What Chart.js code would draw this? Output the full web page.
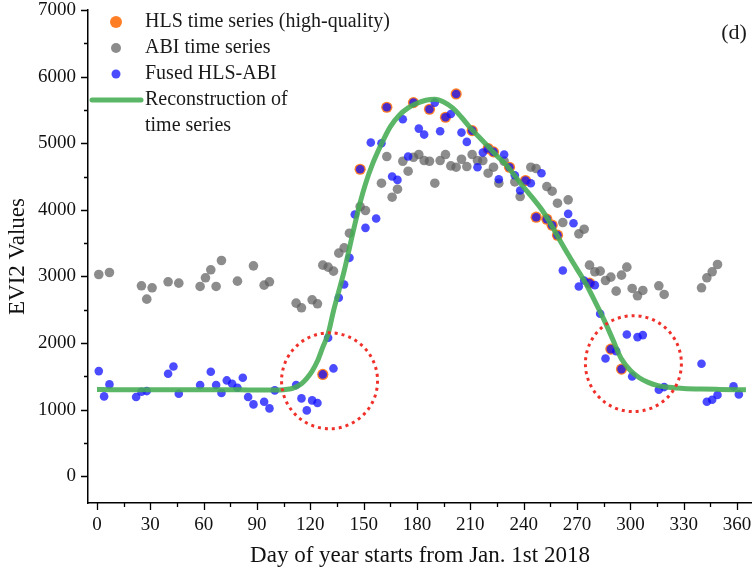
<!DOCTYPE html>
<html>
<head>
<meta charset="utf-8">
<script src="https://cdn.jsdelivr.net/npm/chart.js@4/dist/chart.umd.min.js"></script>
<style>
html,body{margin:0;padding:0;background:#fff;}
canvas{display:block;}
</style>
</head>
<body>
<canvas id="c" width="752" height="575"></canvas>
<script>
// ---- Data ----
const abiDays   = [1,7,25,28,31,40,46,58,61,64,67,70,79,88,94,97,112,115,121,124,127,130,133,136,139,142,148,151,160,163,166,169,172,175,178,181,184,187,190,193,196,199,202,205,208,211,214,217,220,223,226,229,235,238,244,247,253,256,259,262,265,271,274,277,280,283,286,289,292,295,298,301,304,307,316,319,340,343,346,349];
const abiValues = [3030,3060,2860,2660,2830,2920,2900,2850,2980,3100,2850,3240,2930,3160,2870,2920,2600,2530,2650,2590,3170,3140,3080,3350,3430,3650,4050,3990,4400,4800,4190,4310,4730,4580,4790,4830,4740,4730,4400,4740,4830,4660,4640,4760,4650,4830,4740,4740,4550,4640,4400,4730,4420,4200,4640,4620,4350,4280,4100,3810,4150,3640,3710,3170,3070,3080,2940,2990,2780,3020,3140,2820,2710,2790,2860,2730,2830,2980,3070,3180];

const hlsDays   = [127,148,163,178,187,196,202,211,220,223,232,241,247,253,256,259,277,289,295];
const hlsValues = [1530,4610,5540,5610,5510,5390,5740,5190,4920,4870,4640,4440,3890,3860,3770,3620,2900,1910,1610];

const fusedDays   = [1,4,7,22,25,28,40,43,46,58,64,67,70,73,76,79,82,85,88,94,97,100,112,115,118,121,124,127,130,133,136,139,142,145,148,151,154,157,160,163,166,169,172,175,178,181,184,187,190,193,196,199,202,205,208,211,214,217,220,223,226,229,232,235,238,241,244,247,250,253,256,259,262,265,268,271,274,277,280,283,286,289,292,295,298,301,304,307,316,319,340,343,346,349,358,361];
const fusedValues = [1580,1200,1380,1190,1270,1280,1540,1650,1240,1370,1570,1370,1250,1440,1390,1330,1480,1190,1080,1120,1020,1290,1370,1170,990,1140,1100,1530,2080,1620,2680,2880,3280,3930,4610,3730,5010,3870,5000,5540,4500,4450,5360,4800,5610,5220,5130,5510,5610,5180,5390,5440,5740,5160,5020,5190,4640,4860,4920,4870,4460,4830,4640,4520,4290,4440,4400,3890,4550,3860,3770,3620,3090,3940,3800,2850,2940,2900,2870,2440,1770,1910,1880,1610,2130,1500,2090,2120,1300,1340,1690,1120,1150,1220,1350,1230];

const reconDays   = [0,10,20,30,40,50,60,70,80,90,100,105,110,115,118,121,124,127,130,133,136,139,142,145,148,151,155,160,165,170,175,180,185,190,195,200,205,210,215,220,225,230,235,240,245,250,255,260,265,270,275,280,285,290,295,300,305,310,315,320,330,340,350,365];
const reconValues = [1305,1300,1300,1300,1300,1300,1300,1300,1300,1295,1295,1300,1320,1390,1470,1580,1730,1940,2140,2480,2780,3080,3430,3780,4110,4390,4690,4990,5250,5420,5530,5600,5645,5660,5620,5530,5390,5230,5090,4950,4810,4680,4510,4340,4180,4010,3800,3560,3330,3110,2890,2630,2360,2060,1760,1590,1480,1410,1365,1340,1320,1310,1305,1300];

// highlighted areas (centres in data units)
const circleDays   = [130.8, 301.7];
const circleValues = [1434, 1692];

const xTickValues = [0,30,60,90,120,150,180,210,240,270,300,330,360];
const yTickValues = [0,1000,2000,3000,4000,5000,6000,7000];

const legendLabels = ['HLS time series (high-quality)','ABI time series','Fused HLS-ABI',['Reconstruction of','time series']];
const xTitle = 'Day of year starts from Jan. 1st 2018';
const yTitle = 'EVI2 Values';
const panelLabel = '(d)';

// ---- Styles ----
const SERIF = "'Liberation Serif','Times New Roman',serif";
const C_ABI = 'rgba(95,95,95,0.72)';
const C_HLS = '#FF7F27';
const C_FUSED = 'rgba(15,15,255,0.75)';
const C_RECON = 'rgba(70,172,82,0.88)';

function pts(xs, ys){ return xs.map((x,i)=>({x:x, y:ys[i]})); }

const decorPlugin = {
  id: 'decor',
  afterDraw(chart){
    const ctx = chart.ctx;
    const xs = chart.scales.x, ys = chart.scales.y;
    const area = chart.chartArea;
    ctx.save();
    // tick marks
    ctx.strokeStyle = '#000';
    ctx.lineWidth = 1.3;
    ctx.beginPath();
    for (let v = 0; v <= 360; v += 15){
      const p = Math.round(xs.getPixelForValue(v)) + 0.5;
      const len = (xTickValues.indexOf(v) >= 0) ? 7 : 4;
      ctx.moveTo(p, area.bottom); ctx.lineTo(p, area.bottom + len);
    }
    for (let v = 0; v <= 7000; v += 500){
      const p = Math.round(ys.getPixelForValue(v)) + 0.5;
      const len = (yTickValues.indexOf(v) >= 0) ? 7 : 4;
      ctx.moveTo(area.left, p); ctx.lineTo(area.left - len, p);
    }
    ctx.stroke();

    // dotted red circles
    ctx.strokeStyle = '#F0302A';
    ctx.lineWidth = 3;
    ctx.setLineDash([3,4]);
    for (let i = 0; i < circleDays.length; i++){
      const cx = xs.getPixelForValue(circleDays[i]);
      const cy = ys.getPixelForValue(circleValues[i]);
      ctx.beginPath();
      ctx.arc(cx, cy, 48, 0, Math.PI*2);
      ctx.stroke();
    }
    ctx.setLineDash([]);

    // legend
    const lx = 116, tx = 145;
    const rows = [22, 48, 74, 100, 126];
    ctx.fillStyle = C_HLS;
    ctx.beginPath(); ctx.arc(lx, rows[0], 6, 0, Math.PI*2); ctx.fill();
    ctx.fillStyle = C_ABI;
    ctx.beginPath(); ctx.arc(lx, rows[1], 5, 0, Math.PI*2); ctx.fill();
    ctx.fillStyle = C_FUSED;
    ctx.beginPath(); ctx.arc(lx, rows[2], 4.5, 0, Math.PI*2); ctx.fill();
    ctx.strokeStyle = C_RECON;
    ctx.lineWidth = 5;
    ctx.lineCap = 'round';
    ctx.beginPath(); ctx.moveTo(92, rows[3]); ctx.lineTo(141, rows[3]); ctx.stroke();

    ctx.fillStyle = '#1a1a1a';
    ctx.font = '20px ' + SERIF;
    ctx.textAlign = 'left';
    ctx.textBaseline = 'middle';
    ctx.fillText(legendLabels[0], tx, rows[0]);
    ctx.fillText(legendLabels[1], tx, rows[1]);
    ctx.fillText(legendLabels[2], tx, rows[2]);
    ctx.fillText(legendLabels[3][0], tx, rows[3]);
    ctx.fillText(legendLabels[3][1], tx, rows[4]);

    // panel label
    ctx.font = '22px ' + SERIF;
    ctx.textAlign = 'center';
    ctx.fillText(panelLabel, 734, 33);
    ctx.restore();
  }
};

new Chart(document.getElementById('c'), {
  type: 'scatter',
  data: {
    datasets: [
      { type: 'line', label: 'Reconstruction of time series', data: pts(reconDays, reconValues),
        borderColor: C_RECON, borderWidth: 5, pointRadius: 0, fill: false,
        cubicInterpolationMode: 'monotone', order: 0 },
      { label: 'Fused HLS-ABI', data: pts(fusedDays, fusedValues),
        backgroundColor: C_FUSED, borderWidth: 0, pointRadius: 4.3, order: 1 },
      { label: 'HLS time series (high-quality)', data: pts(hlsDays, hlsValues),
        backgroundColor: C_HLS, borderWidth: 0, pointRadius: 5.6, order: 2 },
      { label: 'ABI time series', data: pts(abiDays, abiValues),
        backgroundColor: C_ABI, borderWidth: 0, pointRadius: 4.8, order: 3 }
    ]
  },
  options: {
    responsive: false,
    devicePixelRatio: 1,
    animation: false,
    layout: { autoPadding: false, padding: { top: 10, right: 0, left: 0, bottom: 0 } },
    plugins: { legend: { display: false }, tooltip: { enabled: false } },
    scales: {
      x: {
        type: 'linear', min: -5.06, max: 368.4,
        afterFit(s){ s.height = 72; s.paddingLeft = 0; s.paddingRight = 0; },
        afterBuildTicks(s){ s.ticks = xTickValues.map(v => ({value: v})); },
        grid: { display: true, drawOnChartArea: false, drawTicks: false },
        border: { display: true, color: '#000', width: 1.5 },
        ticks: { padding: 11, color: '#111', font: { family: SERIF, size: 19 }, maxRotation: 0, autoSkip: false,
                 callback: v => String(v) },
        title: { display: true, text: xTitle, color: '#111', font: { family: SERIF, size: 23 }, padding: { top: 0, bottom: 5 } }
      },
      y: {
        type: 'linear', min: -400, max: 7000,
        afterFit(s){ s.width = 88; s.paddingTop = 0; s.paddingBottom = 0; },
        afterBuildTicks(s){ s.ticks = yTickValues.map(v => ({value: v})); },
        grid: { display: true, drawOnChartArea: false, drawTicks: false },
        border: { display: true, color: '#000', width: 1.5 },
        ticks: { padding: 12, color: '#111', font: { family: SERIF, size: 19 }, callback: v => String(v) },
        title: { display: true, text: yTitle, color: '#111', font: { family: SERIF, size: 23 }, padding: { top: 4, bottom: 0 } }
      }
    }
  },
  plugins: [decorPlugin]
});
</script>
</body>
</html>
